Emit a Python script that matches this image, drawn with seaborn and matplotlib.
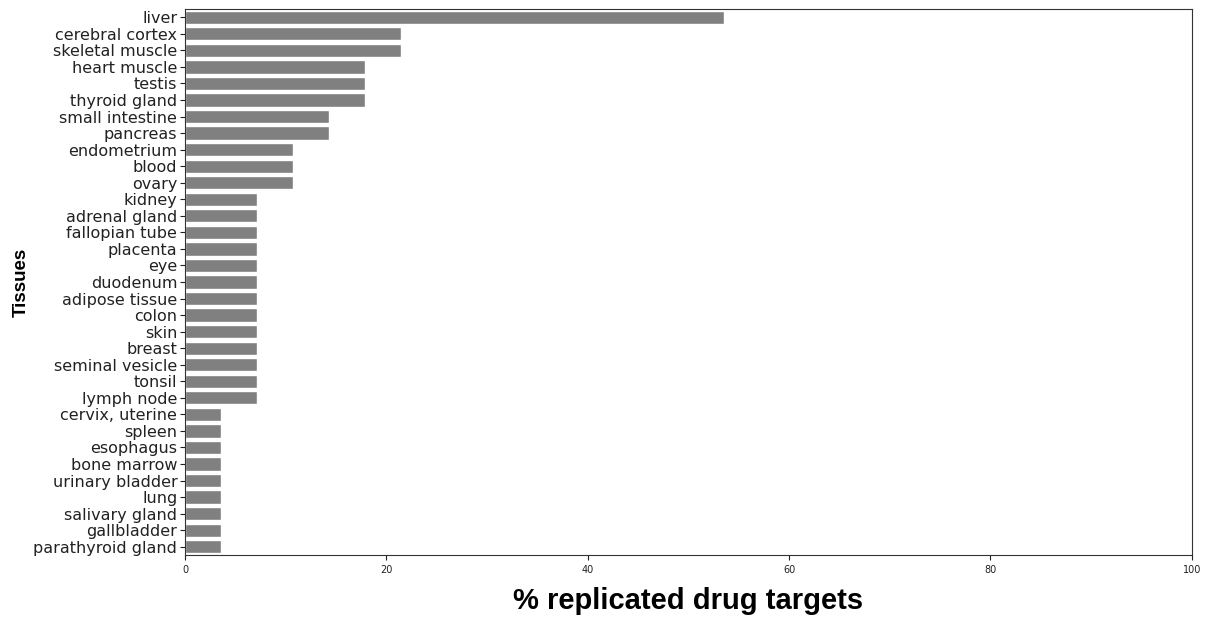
import numpy as np
import pandas as pd
import seaborn as sns
import matplotlib
matplotlib.use("Agg")
import matplotlib.pyplot as plt

# tissues and % of replicated drug targets
tissues = ["liver", "cerebral cortex", "skeletal muscle", "heart muscle", "testis",
           "thyroid gland", "small intestine", "pancreas", "endometrium", "blood",
           "ovary", "kidney", "adrenal gland", "fallopian tube", "placenta", "eye",
           "duodenum", "adipose tissue", "colon", "skin", "breast", "seminal vesicle",
           "tonsil", "lymph node", "cervix, uterine", "spleen", "esophagus",
           "bone marrow", "urinary bladder", "lung", "salivary gland", "gallbladder",
           "parathyroid gland"]
pct = [53.57, 21.43, 21.43, 17.86, 17.86, 17.86, 14.29, 14.29, 10.71, 10.71,
       10.71, 7.14, 7.14, 7.14, 7.14, 7.14, 7.14, 7.14, 7.14, 7.14, 7.14, 7.14,
       7.14, 7.14, 3.57, 3.57, 3.57, 3.57, 3.57, 3.57, 3.57, 3.57, 3.57]

df = pd.DataFrame({"tissue": tissues, "pct": pct})

sns.set_style("white")
fig, ax = plt.subplots(figsize=(12.1, 6.19), dpi=100)
fig.subplots_adjust(left=0.1529, right=0.985, top=0.9855, bottom=0.1034)

sns.barplot(data=df, y="tissue", x="pct", color="grey", saturation=1,
            orient="h", ax=ax)

ax.set_xlim(0, 100)
ax.set_xticks([0, 20, 40, 60, 80, 100])
ax.tick_params(axis="x", labelsize=7, length=3.5, bottom=True, colors="#222222")
ax.tick_params(axis="y", labelsize=11.5, length=3.5, left=True, pad=2,
               colors="#222222")

ax.set_xlabel("% replicated drug targets", fontsize=21, fontweight="bold",
              family="Liberation Sans", labelpad=9, color="black")
ax.set_ylabel("Tissues", fontsize=13.5, fontweight="bold",
              family="Liberation Sans", labelpad=3, color="black")

for s in ax.spines.values():
    s.set_visible(True)
    s.set_color("#333333")
    s.set_linewidth(0.8)

fig.savefig("out.png", dpi=100)
